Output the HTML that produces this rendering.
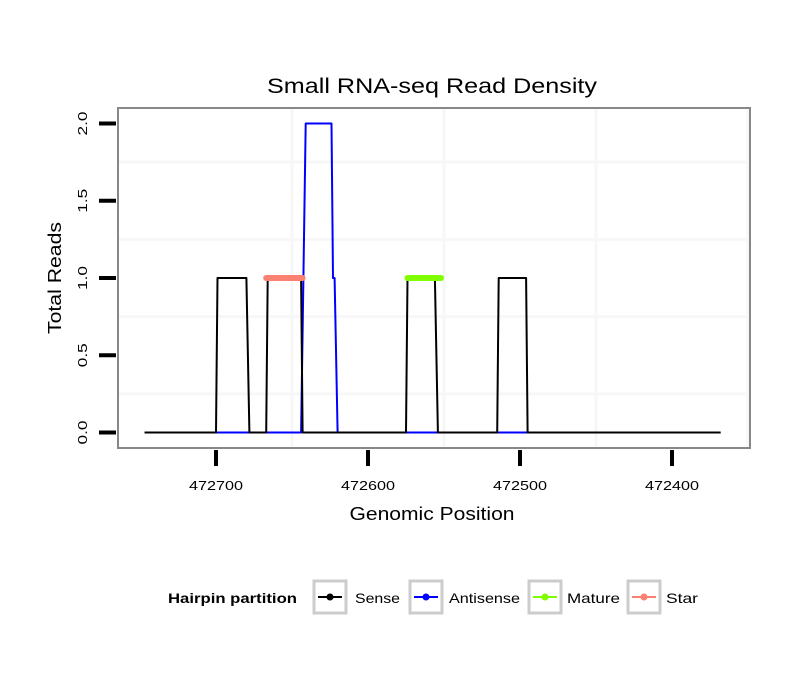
<!DOCTYPE html>
<html><head><meta charset="utf-8"><style>
body{margin:0;background:#fff;}
svg{display:block;font-family:"Liberation Sans",sans-serif;}
</style></head><body>
<svg width="810" height="690">
<g id="grid"></g>
<g id="marks"></g>
<rect x="118" y="108" width="632" height="340" fill="none" stroke="#888" stroke-width="2"/>
<g id="axes"></g>
<text x="432" y="93" font-size="21" text-anchor="middle" textLength="330" lengthAdjust="spacingAndGlyphs">Small RNA-seq Read Density</text>
<text x="432" y="520" font-size="18" text-anchor="middle" textLength="165" lengthAdjust="spacingAndGlyphs">Genomic Position</text>
<text transform="translate(61,278) rotate(-90)" font-size="18" text-anchor="middle" textLength="112" lengthAdjust="spacingAndGlyphs">Total Reads</text>
<g font-size="14">
<text x="168" y="603" font-weight="bold" textLength="129" lengthAdjust="spacingAndGlyphs">Hairpin partition</text>
<g><rect x="314" y="581" width="32" height="32" fill="#fff" stroke="#ccc" stroke-width="3"/><line x1="318" y1="597" x2="342" y2="597" stroke="#000" stroke-width="2"/><circle cx="330" cy="597" r="3.5" fill="#000"/><text x="355" y="603" textLength="45" lengthAdjust="spacingAndGlyphs">Sense</text></g>
<g><rect x="410" y="581" width="32" height="32" fill="#fff" stroke="#ccc" stroke-width="3"/><line x1="414" y1="597" x2="438" y2="597" stroke="#0000ff" stroke-width="2"/><circle cx="426" cy="597" r="3.5" fill="#0000ff"/><text x="449" y="603" textLength="71" lengthAdjust="spacingAndGlyphs">Antisense</text></g>
<g><rect x="529" y="581" width="32" height="32" fill="#fff" stroke="#ccc" stroke-width="3"/><line x1="533" y1="597" x2="557" y2="597" stroke="#7fff00" stroke-width="2"/><circle cx="545" cy="597" r="3.5" fill="#7fff00"/><text x="567" y="603" textLength="53" lengthAdjust="spacingAndGlyphs">Mature</text></g>
<g><rect x="628" y="581" width="32" height="32" fill="#fff" stroke="#ccc" stroke-width="3"/><line x1="632" y1="597" x2="656" y2="597" stroke="#fa8072" stroke-width="2"/><circle cx="644" cy="597" r="3.5" fill="#fa8072"/><text x="666" y="603" textLength="32" lengthAdjust="spacingAndGlyphs">Star</text></g>
</g>
</svg>
<script>
const xTicks = [472700, 472600, 472500, 472400];
const yTicks = [0, 0.5, 1, 1.5, 2];
const yTickLabels = ["0.0", "0.5", "1.0", "1.5", "2.0"];
const senseX = [472747, 472700, 472699, 472680, 472678, 472667, 472666, 472644, 472643, 472575, 472574, 472556, 472554, 472515, 472514, 472496, 472495, 472368];
const senseY = [0, 0, 1, 1, 0, 0, 1, 1, 0, 0, 1, 1, 0, 0, 1, 1, 0, 0];
const antiX = [472747, 472644, 472641, 472624, 472623, 472622, 472620, 472368];
const antiY = [0, 0, 2, 2, 1, 1, 0, 0];
const starX = [472667, 472643];
const starY = [1, 1];
const matureX = [472574, 472552];
const matureY = [1, 1];

const NS = "http://www.w3.org/2000/svg";
function sx(p){ return 216 + (472700 - p) * 1.52; }
function sy(v){ return 432.5 - v * 154.5; }
function mk(tag, attrs, parent){ const e = document.createElementNS(NS, tag); for (const k in attrs) e.setAttribute(k, attrs[k]); parent.appendChild(e); return e; }
const grid = document.getElementById('grid'), marks = document.getElementById('marks'), axes = document.getElementById('axes');
for (let v = 0.25; v <= 2.001; v += 0.5) {
  const l = mk('line', {x1:118, x2:750, y1:sy(v), y2:sy(v), stroke:'#f7f7f7', 'stroke-width': 3}, grid);
  
  
}
for (let p = 472650; p >= 472350; p -= 100) {
  const x = sx(p); if (x < 118 || x > 750) continue;
  const l = mk('line', {x1:x, x2:x, y1:108, y2:448, stroke:'#f7f7f7', 'stroke-width': 3}, grid);
  
  
}
function path(xs, ys, color, w, name, cap){
  let d = xs.map((p,i)=>(i?'L':'M')+sx(p).toFixed(1)+','+sy(ys[i]).toFixed(1)).join('');
  const e = mk('path', {d:d, fill:'none', stroke:color, 'stroke-width':w, 'stroke-linecap':cap||'butt', 'stroke-linejoin':'round'}, marks);
  
  
}
path(antiX, antiY, '#0000ff', 2, 'antisense-line');
path(senseX, senseY, '#000', 2, 'sense-line');
path(starX, starY, '#fa8072', 6, 'star-segment', 'round');
path(matureX, matureY, '#7fff00', 6, 'mature-segment', 'round');
xTicks.forEach(t => {
  const x = sx(t);
  const l = mk('line', {x1:x, x2:x, y1:450, y2:466, stroke:'#000', 'stroke-width':4}, axes);
  
  
  const tx = mk('text', {x:x, y:490, 'font-size':13, 'text-anchor':'middle', textLength:54, lengthAdjust:'spacingAndGlyphs'}, axes);
  tx.textContent = t;
  
  
});
yTicks.forEach((v,i) => {
  const y = sy(v);
  const l = mk('line', {x1:99, x2:116, y1:y, y2:y, stroke:'#000', 'stroke-width':4}, axes);
  
  
  const tx = mk('text', {transform:'translate(87,'+y+') rotate(-90)', 'font-size':13, 'text-anchor':'middle', textLength:24, lengthAdjust:'spacingAndGlyphs'}, axes);
  tx.textContent = yTickLabels[i];
  
  
});
</script>
</body></html>
